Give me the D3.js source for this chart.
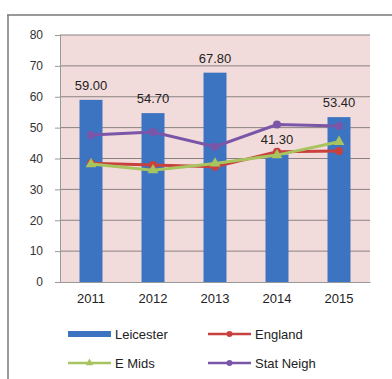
<!DOCTYPE html>
<html>
<head>
<meta charset="utf-8">
<script src="https://cdn.jsdelivr.net/npm/d3@7"></script>
<style>
  body { margin: 0; background: #fff; }
  text { font-family: "Liberation Sans", Arial, sans-serif; }
</style>
</head>
<body>
<svg id="chart" width="392" height="379"></svg>
<script>
// datos
const years = ["2011", "2012", "2013", "2014", "2015"];
const leicester = [59.00, 54.70, 67.80, 41.30, 53.40];
const england = [38.5, 37.9, 37.3, 42.2, 42.4];
const eMids = [38.2, 36.2, 38.4, 41.1, 45.4];
const statNeigh = [47.6, 48.6, 43.8, 51.0, 50.5];
const yTicks = [0, 10, 20, 30, 40, 50, 60, 70, 80];

const svg = d3.select("#chart");
const plotLeft = 60, plotRight = 370, plotTop = 35, plotBottom = 282;

// marco exterior
svg.append("line").attr("x1", 7).attr("x2", 392).attr("y1", 15).attr("y2", 15)
  .attr("stroke", "#777").attr("stroke-width", 1.5);
svg.append("line").attr("x1", 8).attr("x2", 8).attr("y1", 15).attr("y2", 379)
  .attr("stroke", "#777").attr("stroke-width", 1.5);

const x = d3.scaleBand().domain(years).range([plotLeft, plotRight]);
const y = d3.scaleLinear().domain([0, 80]).range([plotBottom, plotTop]);

// fondo del área del gráfico
svg.append("rect")
  .attr("x", plotLeft).attr("y", plotTop)
  .attr("width", plotRight - plotLeft).attr("height", plotBottom - plotTop)
  .attr("fill", "#f2dcdb");

// líneas de grilla
svg.append("g").selectAll("line")
  .data(yTicks.filter(d => d > 0))
  .join("line")
  .attr("x1", plotLeft).attr("x2", plotRight)
  .attr("y1", d => y(d)).attr("y2", d => y(d))
  .attr("stroke", "#8a8080").attr("stroke-width", 1);

// barras Leicester
const barW = 23;
svg.append("g").selectAll("rect")
  .data(leicester)
  .join("rect")
  .attr("x", (d, i) => x(years[i]) + x.bandwidth() / 2 - barW / 2)
  .attr("y", d => y(d))
  .attr("width", barW)
  .attr("height", d => y(0) - y(d))
  .attr("fill", "#3c74c2");

// series de líneas
const lineGen = d3.line()
  .x((d, i) => x(years[i]) + x.bandwidth() / 2)
  .y(d => y(d));

const series = [
  { vals: statNeigh, color: "#7a55a8", marker: "circle" },
  { vals: england, color: "#c8413e", marker: "circle" },
  { vals: eMids, color: "#a8c45e", marker: "tri" }
];

series.forEach(s => {
  svg.append("path")
    .attr("d", lineGen(s.vals))
    .attr("fill", "none")
    .attr("stroke", s.color)
    .attr("stroke-width", 3);
  const g = svg.append("g");
  if (s.marker === "circle") {
    g.selectAll("circle").data(s.vals).join("circle")
      .attr("cx", (d, i) => x(years[i]) + x.bandwidth() / 2)
      .attr("cy", d => y(d))
      .attr("r", 4)
      .attr("fill", s.color);
  } else {
    g.selectAll("path").data(s.vals).join("path")
      .attr("d", d3.symbol(d3.symbolTriangle, 50))
      .attr("transform", (d, i) => `translate(${x(years[i]) + x.bandwidth() / 2},${y(d)})`)
      .attr("fill", s.color);
  }
});

// etiquetas de datos
svg.append("g").selectAll("text")
  .data(leicester)
  .join("text")
  .attr("x", (d, i) => x(years[i]) + x.bandwidth() / 2)
  .attr("y", d => y(d) - 10)
  .attr("text-anchor", "middle")
  .attr("font-size", 13)
  .attr("fill", "#222")
  .text(d => d.toFixed(2));

// eje Y
const yAxis = d3.axisLeft(y).tickValues(yTicks).tickSize(5).tickPadding(12);
const gy = svg.append("g").attr("transform", `translate(${plotLeft},0)`).call(yAxis);
gy.select(".domain").attr("stroke", "#999");
gy.selectAll(".tick line").attr("stroke", "#999");
gy.selectAll("text").attr("font-size", 12).attr("fill", "#333")
  .style("font-family", "'Liberation Sans', Arial, sans-serif");

// eje X
const xAxis = d3.axisBottom(x).tickSize(0).tickPadding(12);
const gx = svg.append("g").attr("transform", `translate(0,${plotBottom})`).call(xAxis);
gx.select(".domain").attr("stroke", "#999");
gx.selectAll("text").attr("font-size", 13).attr("fill", "#222")
  .style("font-family", "'Liberation Sans', Arial, sans-serif");

// leyenda
const legend = [
  { name: "Leicester", color: "#3c74c2", type: "bar", x: 68, y: 334 },
  { name: "England", color: "#c8413e", type: "circle", x: 208, y: 334 },
  { name: "E Mids", color: "#a8c45e", type: "tri", x: 68, y: 363 },
  { name: "Stat Neigh", color: "#7a55a8", type: "circle", x: 208, y: 363 }
];
const lg = svg.append("g").selectAll("g").data(legend).join("g")
  .attr("transform", d => `translate(${d.x},${d.y})`);
lg.append("line")
  .attr("x1", 0).attr("x2", 43).attr("y1", 0).attr("y2", 0)
  .attr("stroke", d => d.color)
  .attr("stroke-width", d => d.type === "bar" ? 6 : 2.5);
lg.filter(d => d.type === "circle").append("circle")
  .attr("cx", 21.5).attr("cy", 0).attr("r", 3).attr("fill", d => d.color);
lg.filter(d => d.type === "tri").append("path")
  .attr("d", d3.symbol(d3.symbolTriangle, 25))
  .attr("transform", "translate(21.5,0)").attr("fill", d => d.color);
lg.append("text")
  .attr("x", 47).attr("y", 0).attr("dy", "0.35em")
  .attr("font-size", 13).attr("fill", "#222")
  .text(d => d.name);
</script>
</body>
</html>
